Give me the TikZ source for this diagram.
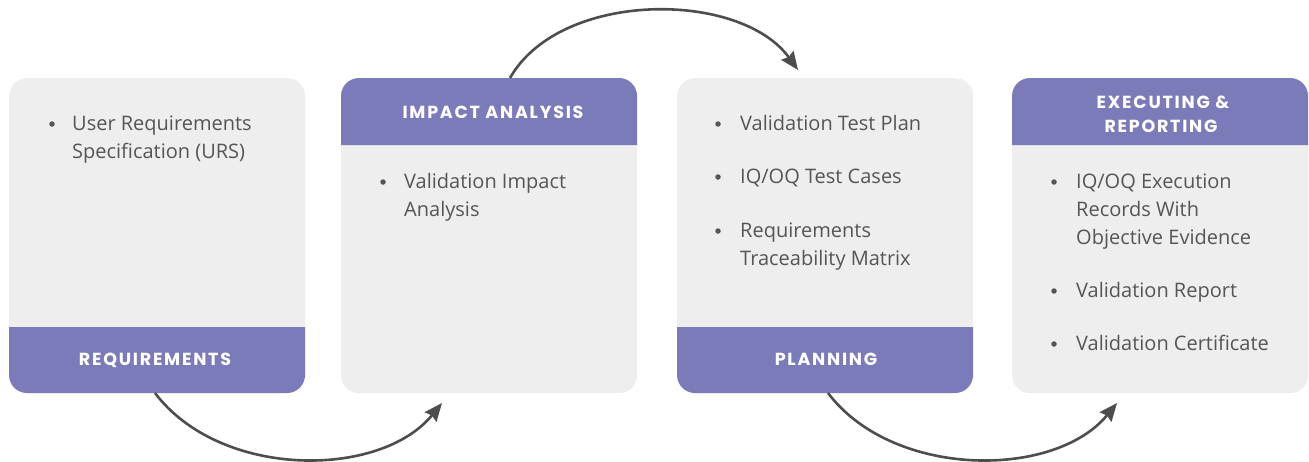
\documentclass[tikz,border=0pt]{standalone}
\usepackage{fontspec}
\setmainfont{Open Sans}
\newfontfamily\hfont[LetterSpace=10]{Poppins}
\usetikzlibrary{arrows.meta}
\definecolor{band}{HTML}{7C7BB9}
\definecolor{card}{HTML}{EEEEEE}
\definecolor{txtgray}{HTML}{555555}
\definecolor{arrowgray}{HTML}{4D4D4D}
\tikzset{
  cardbox/.style={fill=card, rounded corners=18pt, minimum width=296pt, minimum height=315pt, inner sep=0pt, anchor=north west},
  head/.style={font=\hfont\bfseries\fontsize{17.5}{22}\selectfont, text=white, anchor=base, inner sep=0pt},
  txt/.style={font=\fontsize{20}{28}\selectfont, text=txtgray, anchor=base west, inner sep=0pt},
  bul/.style={circle, fill=txtgray, minimum size=5.5pt, inner sep=0pt},
  flow/.style={draw=arrowgray, line width=2.6pt, -{Stealth[length=18pt,width=15pt,inset=2pt]}}
}
\begin{document}
\begin{tikzpicture}[x=1pt,y=-1pt]
\useasboundingbox (0,0) rectangle (1309,461);
% cards
\node[cardbox] (c1) at (9,78) {};
\node[cardbox] (c2) at (341,78) {};
\node[cardbox] (c3) at (677,78) {};
\node[cardbox] (c4) at (1012,78) {};
% bands
\fill[band] (9,327) -- (9,360) [rounded corners=18pt] -- (9,393) -- (305,393) -- (305,360) [sharp corners] -- (305,327) -- cycle;
\fill[band] (677,327) -- (677,360) [rounded corners=18pt] -- (677,393) -- (973,393) -- (973,360) [sharp corners] -- (973,327) -- cycle;
\fill[band] (341,145) -- (341,110) [rounded corners=18pt] -- (341,78) -- (637,78) -- (637,110) [sharp corners] -- (637,145) -- cycle;
\fill[band] (1012,145) -- (1012,110) [rounded corners=18pt] -- (1012,78) -- (1308,78) -- (1308,110) [sharp corners] -- (1308,145) -- cycle;
% headings
\node[head] (h1) at (155,365) {REQUIREMENTS};
\node[head] (h2) at (493,118) {IMPACT ANALYSIS};
\node[head] (h3) at (826,365) {PLANNING};
\node[head] (h4a) at (1163,108) {EXECUTING \&};
\node[head] (h4b) at (1161,132) {REPORTING};
% box 1
\node[bul] (b11) at (52,124) {};
\node[txt] (t11a) at (72,130) {User Requirements};
\node[txt] (t11b) at (72,158) {Specification (URS)};
% box 2
\node[bul] (b21) at (383,182) {};
\node[txt] (t21a) at (404,188) {Validation Impact};
\node[txt] (t21b) at (404,216) {Analysis};
% box 3
\node[bul] (b31) at (718,124) {};
\node[txt] (t31) at (740,130) {Validation Test Plan};
\node[bul] (b32) at (718,177) {};
\node[txt] (t32) at (740,183) {IQ/OQ Test Cases};
\node[bul] (b33) at (718,231) {};
\node[txt] (t33a) at (740,237) {Requirements};
\node[txt] (t33b) at (740,265) {Traceability Matrix};
% box 4
\node[bul] (b41) at (1054,182) {};
\node[txt] (t41a) at (1076,188) {IQ/OQ Execution};
\node[txt] (t41b) at (1076,216) {Records With};
\node[txt] (t41c) at (1076,244) {Objective Evidence};
\node[bul] (b42) at (1054,291) {};
\node[txt] (t42) at (1076,297) {Validation Report};
\node[bul] (b43) at (1054,344) {};
\node[txt] (t43) at (1076,350) {Validation Certificate};
% connector ends
\coordinate (s1) at (155,393);
\coordinate (e1) at (442,403);
\coordinate (s2) at (510,78);
\coordinate (e2) at (798,70);
\coordinate (s3) at (828,393);
\coordinate (e3) at (1117,403);
\draw[flow] (s1) .. controls (220,479) and (380,479) .. (e1);
\draw[flow] (s2) .. controls (560,-10) and (740,-10) .. (e2);
\draw[flow] (s3) .. controls (893,479) and (1055,479) .. (e3);
\end{tikzpicture}
\end{document}
